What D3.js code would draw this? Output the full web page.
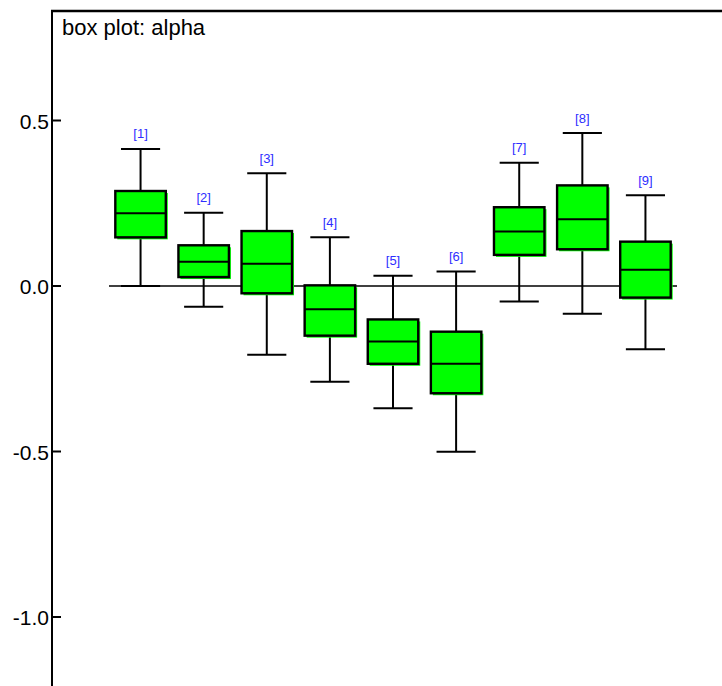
<!DOCTYPE html>
<html>
<head>
<meta charset="utf-8">
<script src="https://cdn.jsdelivr.net/npm/d3@7"></script>
<style>
  html, body { margin: 0; padding: 0; background: #fff; }
  svg { display: block; font-family: "Liberation Sans", Arial, sans-serif; }
</style>
</head>
<body>
<svg id="chart" width="722" height="686"></svg>
<script>
// Box-plot statistics per node
const labels  = ["[1]", "[2]", "[3]", "[4]", "[5]", "[6]", "[7]", "[8]", "[9]"];
const whiskerLow  = [0.000, -0.063, -0.208, -0.289, -0.369, -0.501, -0.047, -0.084, -0.191];
const quartile1   = [0.147,  0.027, -0.022, -0.150, -0.235, -0.324,  0.094,  0.111, -0.035];
const medians     = [0.220,  0.073,  0.067, -0.070, -0.168, -0.235,  0.165,  0.202,  0.049];
const quartile3   = [0.287,  0.123,  0.166,  0.002, -0.101, -0.138,  0.238,  0.304,  0.134];
const whiskerHigh = [0.414,  0.221,  0.341,  0.147,  0.031,  0.044,  0.372,  0.462,  0.274];
const yTicks = [0.5, 0.0, -0.5, -1.0];
const title = "box plot: alpha";

const svg = d3.select("#chart");
const W = 722, H = 686;

const y = d3.scaleLinear().domain([0, 1]).range([286, -45]);
const x = d3.scaleLinear().domain([0.5, labels.length + 0.5]).range([109, 677]);
const step = x(2) - x(1);
const boxW = step * 0.8;
const capW = step * 0.62;

const data = labels.map((l, i) => ({
  label: l, i: i + 1,
  lo: whiskerLow[i], q1: quartile1[i], med: medians[i], q3: quartile3[i], hi: whiskerHigh[i]
}));

// Zero reference line
svg.append("line")
  .attr("x1", x(0.5)).attr("x2", x(labels.length + 0.5))
  .attr("y1", y(0)).attr("y2", y(0))
  .attr("stroke", "#000").attr("stroke-width", 1.5);

const g = svg.append("g").selectAll("g").data(data).join("g");

// whiskers
g.append("line")
  .attr("x1", d => x(d.i)).attr("x2", d => x(d.i))
  .attr("y1", d => y(d.hi)).attr("y2", d => y(d.lo))
  .attr("stroke", "#000").attr("stroke-width", 2);
g.append("line")
  .attr("x1", d => x(d.i) - capW / 2).attr("x2", d => x(d.i) + capW / 2)
  .attr("y1", d => y(d.hi)).attr("y2", d => y(d.hi))
  .attr("stroke", "#000").attr("stroke-width", 2);
g.append("line")
  .attr("x1", d => x(d.i) - capW / 2).attr("x2", d => x(d.i) + capW / 2)
  .attr("y1", d => y(d.lo)).attr("y2", d => y(d.lo))
  .attr("stroke", "#000").attr("stroke-width", 2);

// box shadow
g.append("rect")
  .attr("x", d => x(d.i) - boxW / 2 + 2)
  .attr("y", d => y(d.q3) + 2)
  .attr("width", boxW)
  .attr("height", d => y(d.q1) - y(d.q3))
  .attr("fill", "#00ff00");
// box
g.append("rect")
  .attr("x", d => x(d.i) - boxW / 2)
  .attr("y", d => y(d.q3))
  .attr("width", boxW)
  .attr("height", d => y(d.q1) - y(d.q3))
  .attr("fill", "#00ff00")
  .attr("stroke", "#000").attr("stroke-width", 2.4);
// median
g.append("line")
  .attr("x1", d => x(d.i) - boxW / 2).attr("x2", d => x(d.i) + boxW / 2)
  .attr("y1", d => y(d.med)).attr("y2", d => y(d.med))
  .attr("stroke", "#000").attr("stroke-width", 2);
// node labels
g.append("text")
  .attr("x", d => x(d.i)).attr("y", d => y(d.hi) - 10.5)
  .attr("text-anchor", "middle")
  .attr("font-size", 13).attr("fill", "#2e2eff")
  .text(d => d.label);

// frame: left axis and top border
svg.append("line").attr("x1", 52).attr("x2", 52).attr("y1", 10).attr("y2", H)
  .attr("stroke", "#000").attr("stroke-width", 2);
svg.append("line").attr("x1", 51).attr("x2", W).attr("y1", 11).attr("y2", 11)
  .attr("stroke", "#000").attr("stroke-width", 2.5);

// y ticks inside the frame
const fmt = v => d3.format(".1f")(v).replace("\u2212", "-");
const yt = svg.append("g").selectAll("g").data(yTicks).join("g")
  .attr("transform", d => `translate(0,${y(d)})`);
yt.append("line").attr("x1", 52).attr("x2", 61).attr("stroke", "#000").attr("stroke-width", 2);
yt.append("text").attr("x", 49).attr("y", 8)
  .attr("text-anchor", "end").attr("font-size", 21).attr("fill", "#000")
  .text(fmt);

svg.append("text").attr("x", 62).attr("y", 35)
  .attr("font-size", 22).attr("fill", "#000").text(title);
</script>
</body>
</html>
